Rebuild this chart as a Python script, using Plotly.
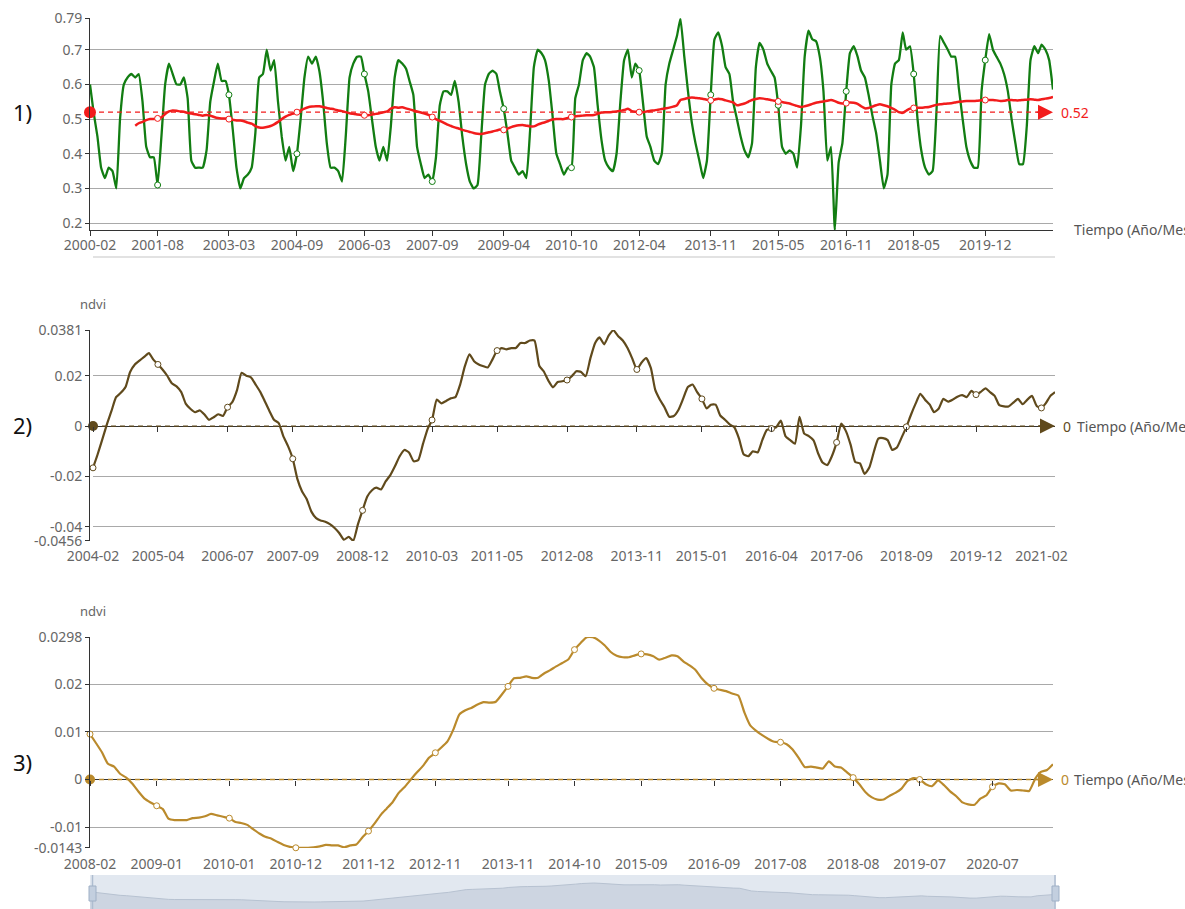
import plotly.graph_objects as go

W, H = 1185, 909

# ---------------- data ----------------
GREEN_START = "2000-02"
GREEN = [
    0.60, 0.52, 0.45, 0.36, 0.33, 0.36, 0.35, 0.30, 0.50, 0.60,
    0.62, 0.63, 0.62, 0.63, 0.55, 0.42, 0.39, 0.39, 0.31, 0.45,
    0.60, 0.66, 0.63, 0.60, 0.60, 0.62, 0.56, 0.38, 0.36, 0.36,
    0.36, 0.41, 0.55, 0.61, 0.66, 0.61, 0.61, 0.57, 0.47, 0.36,
    0.30, 0.33, 0.34, 0.36, 0.46, 0.62, 0.63, 0.70, 0.64, 0.67,
    0.55, 0.45, 0.38, 0.42, 0.35, 0.40, 0.50, 0.62, 0.68, 0.66,
    0.68, 0.64, 0.55, 0.43, 0.36, 0.36, 0.35, 0.32, 0.45, 0.62,
    0.66, 0.68, 0.68, 0.63, 0.58, 0.50, 0.42, 0.38, 0.42, 0.38,
    0.48, 0.62, 0.67,
    0.66, 0.645, 0.61, 0.57, 0.42, 0.37, 0.33, 0.34, 0.32, 0.39,
    0.54, 0.58, 0.58, 0.57, 0.61, 0.55, 0.45, 0.37, 0.32, 0.30,
    0.31, 0.45, 0.60, 0.63, 0.64, 0.63, 0.58, 0.53, 0.46, 0.38,
    0.36, 0.34, 0.35, 0.33, 0.47, 0.65, 0.70, 0.69, 0.67, 0.61,
    0.51, 0.40, 0.37, 0.34, 0.36, 0.36, 0.56, 0.60, 0.67, 0.69,
    0.68, 0.65, 0.54, 0.44, 0.38, 0.36, 0.35, 0.40, 0.55, 0.67,
    0.70, 0.62, 0.66, 0.64, 0.55, 0.45, 0.42, 0.38, 0.37, 0.40,
    0.60, 0.66, 0.70, 0.74, 0.79, 0.68, 0.58, 0.49, 0.43, 0.38,
    0.33, 0.38, 0.57, 0.73, 0.75, 0.71, 0.65, 0.63, 0.55, 0.50,
    0.45, 0.41, 0.39, 0.43, 0.65, 0.72, 0.70, 0.66, 0.64, 0.62,
    0.54, 0.42, 0.40, 0.41, 0.40, 0.36,
    0.48, 0.68, 0.755, 0.73, 0.725, 0.68, 0.58, 0.38, 0.42, 0.18,
    0.375, 0.43, 0.58, 0.69, 0.71, 0.68, 0.64, 0.62, 0.57, 0.51,
    0.46, 0.38, 0.30, 0.34, 0.60, 0.66, 0.67, 0.75, 0.70, 0.71,
    0.63, 0.50, 0.41, 0.36, 0.34, 0.35, 0.52, 0.74, 0.72, 0.70,
    0.68, 0.68, 0.59, 0.50, 0.42, 0.38, 0.36, 0.36, 0.58, 0.67,
    0.745, 0.70, 0.68, 0.66, 0.63, 0.58, 0.50, 0.43, 0.37, 0.37,
    0.48, 0.67, 0.71, 0.69, 0.715, 0.70, 0.67, 0.585,
]

RED_START = "2001-02"
RED = [
    0.481, 0.488, 0.492, 0.497, 0.500, 0.500, 0.502, 0.505, 0.515, 0.522,
    0.525, 0.524, 0.522, 0.521, 0.518, 0.516, 0.514, 0.512, 0.510, 0.512,
    0.510, 0.506, 0.503, 0.502, 0.502, 0.500, 0.498, 0.496, 0.496, 0.494,
    0.490, 0.487, 0.480, 0.476, 0.475, 0.477, 0.480, 0.485, 0.492, 0.500,
    0.507, 0.512, 0.516, 0.520, 0.525, 0.530, 0.534, 0.536, 0.537, 0.537,
    0.535, 0.532, 0.530, 0.528, 0.525, 0.523, 0.520, 0.517, 0.515, 0.513,
    0.512, 0.511, 0.511, 0.513, 0.515, 0.517, 0.520, 0.522, 0.530, 0.534,
    0.533, 0.534, 0.531, 0.528, 0.525, 0.522, 0.519, 0.516, 0.512, 0.506,
    0.500, 0.495, 0.490, 0.484, 0.480, 0.476, 0.473, 0.469, 0.466, 0.463,
    0.460, 0.458, 0.457, 0.459, 0.462, 0.464, 0.467, 0.470, 0.469, 0.472,
    0.477, 0.480, 0.482, 0.483, 0.481, 0.479, 0.479, 0.484, 0.488, 0.491,
    0.495, 0.499, 0.500, 0.500, 0.500, 0.503, 0.506, 0.508, 0.509, 0.510,
    0.511, 0.511, 0.512, 0.515, 0.519, 0.520, 0.520, 0.521, 0.522, 0.524,
    0.526, 0.530, 0.523, 0.521, 0.520, 0.520, 0.522, 0.524, 0.525, 0.527,
    0.529, 0.531, 0.533, 0.536, 0.540, 0.555, 0.558, 0.561, 0.562, 0.561,
    0.560, 0.558, 0.556, 0.554, 0.556, 0.559, 0.557, 0.554, 0.551, 0.548,
    0.540, 0.542, 0.545, 0.550, 0.555, 0.558, 0.560, 0.559, 0.557, 0.555,
    0.553, 0.551, 0.549, 0.547, 0.545, 0.541, 0.538, 0.535, 0.537, 0.540,
    0.544, 0.547, 0.549, 0.551, 0.553, 0.555, 0.552, 0.547, 0.545, 0.546,
    0.548, 0.547, 0.544, 0.537, 0.531, 0.532, 0.536, 0.540, 0.543, 0.540,
    0.537, 0.532, 0.527, 0.520, 0.518, 0.524, 0.530, 0.532, 0.533, 0.533,
    0.534, 0.535, 0.538, 0.541, 0.543, 0.544, 0.545, 0.546, 0.548, 0.550,
    0.551, 0.552, 0.552, 0.552, 0.553, 0.554, 0.555, 0.555, 0.555, 0.554,
    0.552, 0.553, 0.555, 0.555, 0.554, 0.554, 0.555, 0.556, 0.557, 0.556,
    0.555, 0.557, 0.559, 0.561, 0.564,
]
MEAN_NDVI = 0.52
TICKS_1 = ["2000-02", "2001-08", "2003-03", "2004-09", "2006-03", "2007-09", "2009-04",
           "2010-10", "2012-04", "2013-11", "2015-05", "2016-11", "2018-05", "2019-12"]
Y_TICKS_1 = [0.2, 0.3, 0.4, 0.5, 0.6, 0.7, 0.79]
Y_RANGE_1 = [0.18, 0.79]

DIFF2_START = "2004-02"
DIFF2 = [
    -0.0166, -0.0115, -0.0055, 0.0005, 0.0060, 0.0115, 0.0132, 0.0155, 0.0215, 0.0245,
    0.0260, 0.0275, 0.0290, 0.0265, 0.0245, 0.0225, 0.0200, 0.0170, 0.0158, 0.0135,
    0.0088, 0.0068, 0.0055, 0.0062, 0.0045, 0.0025, 0.0035, 0.0047, 0.0040, 0.0075,
    0.0095, 0.0143, 0.0212, 0.0200, 0.0194, 0.0165, 0.0135, 0.0100, 0.0060, 0.0025,
    0.0012, -0.0040, -0.0080, -0.0130, -0.0210, -0.0260, -0.0290, -0.0340, -0.0366, -0.0375,
    -0.0380, -0.0390, -0.0405, -0.0425, -0.0452, -0.0440, -0.0456, -0.0390, -0.0335, -0.0280,
    -0.0255, -0.0245, -0.0252, -0.0220, -0.0195, -0.0160, -0.0120, -0.0095, -0.0105, -0.0140,
    -0.0135, -0.0070, -0.0010, 0.0024, 0.0105, 0.0090, 0.0100, 0.0110, 0.0115, 0.0165,
    0.0236, 0.0285, 0.0258, 0.0245, 0.0238, 0.0233, 0.0265, 0.0300, 0.0310, 0.0305,
    0.0310, 0.0310, 0.0330, 0.0330, 0.0340, 0.0340, 0.0240, 0.0218, 0.0180, 0.0154,
    0.0175, 0.0178, 0.0183, 0.0198, 0.0218, 0.0215, 0.0198, 0.0270, 0.0330, 0.0353,
    0.0325, 0.0360, 0.0381, 0.0358, 0.0340, 0.0310, 0.0270, 0.0225, 0.0252, 0.0270,
    0.0230, 0.0145, 0.0105, 0.0075, 0.0037, 0.0040, 0.0065, 0.0110, 0.0155, 0.0165,
    0.0135, 0.0108, 0.0070, 0.0085, 0.0085, 0.0042, 0.0025, 0.0007, -0.0005, -0.0050,
    -0.0112, -0.0120, -0.0100, -0.0105, -0.0055, -0.0015, -0.0010, -0.0005, 0.0022, -0.0040,
    -0.0056, -0.0070, 0.0037, -0.0030, -0.0040, -0.0057, -0.0110, -0.0145, -0.0155, -0.0120,
    -0.0065, 0.0010, -0.0020, -0.0075, -0.0143, -0.0148, -0.0190, -0.0165, -0.0100, -0.0050,
    -0.0048, -0.0056, -0.0095, -0.0085, -0.0045, -0.0003, 0.0045, 0.0090, 0.0128, 0.0105,
    0.0085, 0.0055, 0.0070, 0.0108, 0.0097, 0.0105, 0.0117, 0.0123, 0.0115, 0.0140,
    0.0125, 0.0136, 0.0150, 0.0135, 0.0120, 0.0083, 0.0078, 0.0078, 0.0093, 0.0108,
    0.0087, 0.0105, 0.0120, 0.0080, 0.0072, 0.0090, 0.0120, 0.0135,
]
TICKS_2 = ["2004-02", "2005-04", "2006-07", "2007-09", "2008-12", "2010-03", "2011-05", "2012-08",
           "2013-11", "2015-01", "2016-04", "2017-06", "2018-09", "2019-12", "2021-02"]
Y_TICKS_2 = [-0.0456, -0.04, -0.02, 0, 0.02, 0.0381]

DIFF3_START = "2008-02"
DIFF3 = [
    0.0095, 0.0077, 0.0057, 0.0033, 0.0027, 0.0012, 0.0004, -0.0009, -0.0025, -0.0040,
    -0.0048, -0.0055, -0.0062, -0.0082, -0.0085, -0.0085, -0.0085, -0.0081, -0.0080, -0.0077,
    -0.0072, -0.0075, -0.0078, -0.0081, -0.0089, -0.0091, -0.0095, -0.0104, -0.0113, -0.0120,
    -0.0124, -0.0131, -0.0137, -0.0141, -0.0143, -0.0143, -0.0143, -0.0142, -0.0140, -0.0137,
    -0.0138, -0.0138, -0.0142, -0.0138, -0.0136, -0.0121, -0.0108, -0.0092, -0.0074, -0.0061,
    -0.0047, -0.0028, -0.0015, 0.0000, 0.0015, 0.0029, 0.0046, 0.0056, 0.0067, 0.0080,
    0.0106, 0.0136, 0.0145, 0.0150, 0.0157, 0.0162, 0.0161, 0.0163, 0.0178, 0.0195,
    0.0212, 0.0213, 0.0216, 0.0213, 0.0213, 0.0222, 0.0229, 0.0237, 0.0244, 0.0252,
    0.0272, 0.0286, 0.0298, 0.0298, 0.0291, 0.0281, 0.0267, 0.0259, 0.0256, 0.0256,
    0.0260, 0.0263, 0.0262, 0.0258, 0.0251, 0.0255, 0.0260, 0.0258, 0.0247, 0.0239,
    0.0229, 0.0212, 0.0199, 0.0191, 0.0188, 0.0185, 0.0180, 0.0176, 0.0140, 0.0114,
    0.0102, 0.0093, 0.0085, 0.0079, 0.0078, 0.0074, 0.0063, 0.0045, 0.0026, 0.0027,
    0.0025, 0.0023, 0.0038, 0.0027, 0.0025, 0.0015, 0.0004, -0.0010, -0.0026, -0.0037,
    -0.0042, -0.0042, -0.0034, -0.0028, -0.0019, -0.0003, 0.0003, 0.0000, -0.0010, -0.0014,
    -0.0002, -0.0012, -0.0025, -0.0035, -0.0048, -0.0052, -0.0053, -0.0040, -0.0033, -0.0015,
    -0.0008, -0.0010, -0.0023, -0.0022, -0.0023, -0.0024, 0.0002, 0.0016, 0.0020, 0.0032,
]
TICKS_3 = ["2008-02", "2009-01", "2010-01", "2010-12", "2011-12", "2012-11", "2013-11",
           "2014-10", "2015-09", "2016-09", "2017-08", "2018-08", "2019-07", "2020-07"]
Y_TICKS_3 = [-0.0143, -0.01, 0, 0.01, 0.02, 0.0298]

ZERO = 0
X_TITLE = "Tiempo (Año/Mes)"
Y_TITLE = "ndvi"
PANEL_LABELS = ["1)", "2)", "3)"]

# ---------------- styling ----------------
C_GREEN = "#127d12"
C_RED = "#f21c1c"
C_BROWN = "#604a1c"
C_GOLD = "#ba8a2c"
GRID = "#a9a9a9"
AXIS = "#333333"
TXT = "#666666"
FONT = "Noto Sans"


def months(start, n):
    y, m = map(int, start.split("-"))
    out = []
    for _ in range(n):
        out.append(f"{y:04d}-{m:02d}")
        m += 1
        if m > 12:
            m, y = 1, y + 1
    return out


def px(x):
    return x / W


def py(y):
    return 1 - y / H


def fmt(v):
    return "0" if v == 0 else repr(v)


d1 = months(GREEN_START, len(GREEN))
dr = months(RED_START, len(RED))
d2 = months(DIFF2_START, len(DIFF2))
d3 = months(DIFF3_START, len(DIFF3))


def tick_points(dates, vals, ticks):
    xs, ys = [], []
    for t in ticks:
        if t in dates:
            xs.append(t)
            ys.append(vals[dates.index(t)])
    return xs, ys


fig = go.Figure()


def line(x, y, color, xa, ya, width=2.0, smooth=0.5):
    fig.add_trace(go.Scatter(x=x, y=y, mode="lines", xaxis=xa, yaxis=ya,
                             line=dict(color=color, width=width, shape="spline", smoothing=smooth),
                             hoverinfo="skip", showlegend=False))


def dots(x, y, color, xa, ya):
    fig.add_trace(go.Scatter(x=x, y=y, mode="markers", xaxis=xa, yaxis=ya, cliponaxis=False,
                             marker=dict(symbol="circle", size=6, color="white",
                                         line=dict(color=color, width=1)),
                             hoverinfo="skip", showlegend=False))


def mark_line(dates, value, color, xa, ya, size):
    fig.add_trace(go.Scatter(x=[dates[0], dates[-1]], y=[value, value], mode="lines",
                             xaxis=xa, yaxis=ya, line=dict(color=color, width=1.3, dash="5px,4px"),
                             hoverinfo="skip", showlegend=False))
    fig.add_trace(go.Scatter(x=[dates[0]], y=[value], mode="markers", xaxis=xa, yaxis=ya,
                             cliponaxis=False,
                             marker=dict(symbol="circle", size=size, color=color),
                             hoverinfo="skip", showlegend=False))


# panel 1
line(d1, GREEN, C_GREEN, "x", "y", 2.3, 0.4)
line(dr, RED, C_RED, "x", "y", 2.5, 0.6)
mark_line(d1, MEAN_NDVI, C_RED, "x", "y", 12)
gx, gy = tick_points(d1, GREEN, TICKS_1[1:])
dots(gx, gy, C_GREEN, "x", "y")
rx, ry = tick_points(dr, RED, TICKS_1)
dots(rx, ry, C_RED, "x", "y")

# panel 2
line(d2, DIFF2, C_BROWN, "x2", "y2", 2.2, 0.5)
mark_line(d2, ZERO, C_BROWN, "x2", "y2", 10)
bx, by = tick_points(d2, DIFF2, TICKS_2)
dots(bx, by, C_BROWN, "x2", "y2")

# panel 3
line(d3, DIFF3, C_GOLD, "x3", "y3", 2.2, 0.5)
mark_line(d3, ZERO, C_GOLD, "x3", "y3", 10)
ox, oy = tick_points(d3, DIFF3, TICKS_3)
dots(ox, oy, C_GOLD, "x3", "y3")

# data-zoom shadow (panel 3 series)
SHADOW_BASE = -0.0305
SHADOW_TOP = 0.0484
fig.add_trace(go.Scatter(x=d3, y=[v - SHADOW_BASE for v in DIFF3], mode="lines", xaxis="x4", yaxis="y4",
                         fill="tozeroy", fillcolor="#cdd5e1", line=dict(color="#b7c2d1", width=1),
                         hoverinfo="skip", showlegend=False))

# helper traces to register zero-line tick axes
fig.add_trace(go.Scatter(x=[d2[0]], y=[0], xaxis="x5", yaxis="y2", mode="markers",
                         marker=dict(opacity=0), hoverinfo="skip", showlegend=False))
fig.add_trace(go.Scatter(x=[d3[0]], y=[0], xaxis="x6", yaxis="y3", mode="markers",
                         marker=dict(opacity=0), hoverinfo="skip", showlegend=False))

tickfont = dict(family=FONT, size=14, color=TXT)

dom1 = [py(230.3), py(18.3)]
dom2 = [py(541), py(330)]
dom3 = [py(848), py(637)]
xd1 = [px(90), px(1053)]
xd2 = [px(93), px(1055)]
xd3 = [px(90), px(1053)]


def pad(r):
    e = (r[1] - r[0]) * 0.001
    return [r[0] - e, r[1] + e]


r2 = [Y_TICKS_2[0], Y_TICKS_2[-1]]
r3 = [Y_TICKS_3[0], Y_TICKS_3[-1]]
zpos2 = dom2[0] + (0 - r2[0]) / (r2[1] - r2[0]) * (dom2[1] - dom2[0])
zpos3 = dom3[0] + (0 - r3[0]) / (r3[1] - r3[0]) * (dom3[1] - dom3[0])


def yax(dom, rng, ticks, zeroline):
    return dict(domain=dom, range=pad(rng), tickvals=ticks, ticktext=[fmt(t) for t in ticks],
                showgrid=True, gridcolor=GRID, gridwidth=1, showline=True, linecolor=AXIS,
                linewidth=1, ticks="outside", ticklen=4, tickcolor=AXIS, tickfont=tickfont,
                zeroline=zeroline, zerolinecolor=AXIS, zerolinewidth=1, fixedrange=True,
                automargin=False)


def xax(dom, dates, ticks, anchor, showline, tickcolor, standoff):
    return dict(domain=dom, anchor=anchor, type="date", range=[dates[0], dates[-1]],
                tickvals=ticks, ticktext=ticks, ticks="outside", ticklen=5, tickcolor=tickcolor,
                showline=showline, linecolor=AXIS, linewidth=1, showgrid=False, zeroline=False,
                tickfont=tickfont, fixedrange=True, automargin=False, ticklabelstandoff=standoff)


fig.update_layout(
    width=W, height=H, margin=dict(l=0, r=0, t=0, b=0, pad=0, autoexpand=False),
    paper_bgcolor="white", plot_bgcolor="rgba(0,0,0,0)",
    font=dict(family=FONT, size=14, color=TXT),
    xaxis=xax(xd1, d1, TICKS_1, "y", True, AXIS, -3),
    yaxis=yax(dom1, Y_RANGE_1, Y_TICKS_1, False),
    xaxis2=xax(xd2, d2, TICKS_2, "y2", False, "rgba(0,0,0,0)", -3),
    yaxis2=yax(dom2, r2, Y_TICKS_2, True),
    xaxis3=xax(xd3, d3, TICKS_3, "y3", False, "rgba(0,0,0,0)", -2),
    yaxis3=yax(dom3, r3, Y_TICKS_3, True),
    xaxis4=dict(domain=[px(90), px(1055)], anchor="y4", type="date", range=[d3[0], d3[-1]],
                visible=False, fixedrange=True, automargin=False),
    yaxis4=dict(domain=[0, py(875)], range=[0, SHADOW_TOP - SHADOW_BASE], visible=False,
                fixedrange=True, automargin=False),
    xaxis5=dict(domain=xd2, overlaying="x2", anchor="free", position=zpos2, type="date",
                range=[d2[0], d2[-1]], tickvals=TICKS_2, ticks="outside", ticklen=5, tickcolor=AXIS,
                showticklabels=False, showline=False, showgrid=False, zeroline=False, fixedrange=True,
                automargin=False),
    xaxis6=dict(domain=xd3, overlaying="x3", anchor="free", position=zpos3, type="date",
                range=[d3[0], d3[-1]], tickvals=TICKS_3, ticks="outside", ticklen=5, tickcolor=AXIS,
                showticklabels=False, showline=False, showgrid=False, zeroline=False, fixedrange=True,
                automargin=False),
)

shapes = [
    # slider background
    dict(type="rect", xref="paper", yref="paper", x0=px(90), x1=px(1056), y0=0, y1=py(875),
         fillcolor="#e2e8f0", line=dict(width=0), layer="below"),
    # slider handles
    dict(type="line", xref="paper", yref="paper", x0=px(92.5), x1=px(92.5), y0=0, y1=py(875),
         line=dict(color="#aebdd0", width=1.5)),
    dict(type="line", xref="paper", yref="paper", x0=px(1055), x1=px(1055), y0=0, y1=py(875),
         line=dict(color="#aebdd0", width=1.5)),
    dict(type="rect", xref="paper", yref="paper", x0=px(89), x1=px(96), y0=py(901), y1=py(886),
         fillcolor="#c3cfdf", line=dict(color="#9fb0c6", width=1)),
    dict(type="rect", xref="paper", yref="paper", x0=px(1052), x1=px(1059), y0=py(901), y1=py(886),
         fillcolor="#c3cfdf", line=dict(color="#9fb0c6", width=1)),
    # faint line under panel 1
    dict(type="line", xref="paper", yref="paper", x0=px(93), x1=px(1055), y0=py(257), y1=py(257),
         line=dict(color="#e2e2e2", width=2)),
]
fig.update_layout(shapes=shapes)

ann = []
for lab, yy in zip(PANEL_LABELS, [112, 425, 762]):
    ann.append(dict(text=lab, xref="paper", yref="paper", x=px(22), y=py(yy), showarrow=False,
                    xanchor="center", yanchor="middle", font=dict(family=FONT, size=22, color="#111")))
for yy in [304, 611]:
    ann.append(dict(text=Y_TITLE, xref="paper", yref="paper", x=px(93), y=py(yy), showarrow=False,
                    xanchor="center", yanchor="middle", font=dict(family=FONT, size=13, color=TXT)))
for xx, yy in [(1072, 229), (1075, 426), (1072, 779)]:
    ann.append(dict(text=X_TITLE, xref="paper", yref="paper", x=px(xx), y=py(yy), showarrow=False,
                    xanchor="left", yanchor="middle", font=dict(family=FONT, size=14, color="#555")))
for dates, val, col, xa, ya, lab in [(d1, MEAN_NDVI, C_RED, "x", "y", "0.52"),
                                     (d2, ZERO, C_BROWN, "x2", "y2", "0"),
                                     (d3, ZERO, C_GOLD, "x3", "y3", "0")]:
    ann.append(dict(text="", x=dates[-1], y=val, xref=xa, yref=ya, ax=-18, ay=0,
                    showarrow=True, arrowhead=2, arrowsize=2.0, arrowwidth=1.5, arrowcolor=col,
                    standoff=0))
    ann.append(dict(text=lab, x=dates[-1], y=val, xref=xa, yref=ya, showarrow=False,
                    xanchor="left", yanchor="middle", xshift=6,
                    font=dict(family=FONT, size=14, color=col)))
fig.update_layout(annotations=ann)

fig.write_html("out.html", config={"displayModeBar": False},
               post_script="document.body.style.margin='0';document.body.style.overflow='hidden';")
